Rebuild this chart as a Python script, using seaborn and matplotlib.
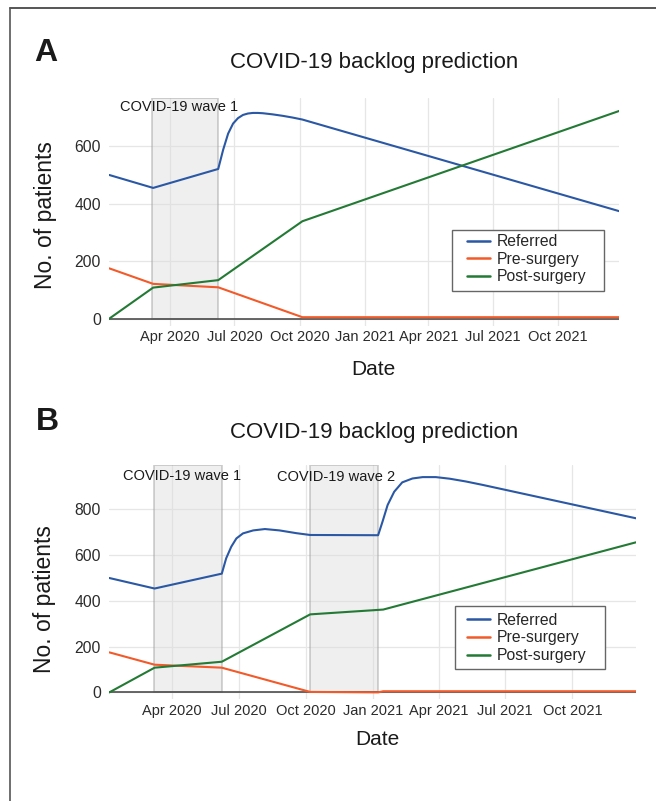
import matplotlib
matplotlib.use("Agg")
import matplotlib.pyplot as plt
import matplotlib.dates as mdates
from matplotlib.lines import Line2D
from matplotlib.patches import Rectangle
import numpy as np
import pandas as pd
import seaborn as sns

# ---- data (weekly model output, key points) ----
SERIES = ["Referred", "Pre-surgery", "Post-surgery"]
COLORS = ["#2b58a4", "#f25a29", "#237a35"]

# Panel A: one wave
a_ref_dates = ["2020-01-06", "2020-03-08", "2020-06-08", "2020-06-15", "2020-06-22",
               "2020-06-29", "2020-07-06", "2020-07-13", "2020-07-20", "2020-07-27",
               "2020-08-03", "2020-08-10", "2020-08-24", "2020-09-07", "2020-09-21",
               "2020-10-05", "2021-12-27"]
a_ref_vals = [500, 455, 521, 588, 644, 679, 698, 709, 714, 716,
              716, 715, 711, 706, 700, 693, 374]
a_pre_dates = ["2020-01-06", "2020-03-08", "2020-06-08", "2020-10-05", "2021-12-27"]
a_pre_vals = [175, 121, 109, 5, 5]
a_post_dates = ["2020-01-06", "2020-03-08", "2020-06-08", "2020-10-05", "2021-12-27"]
a_post_vals = [0, 108, 134, 339, 723]

# Panel B: two waves
b_ref_dates = ["2020-01-06", "2020-03-08", "2020-06-08", "2020-06-14", "2020-06-21",
               "2020-06-28", "2020-07-07", "2020-07-21", "2020-08-06", "2020-08-26",
               "2020-09-18", "2020-10-07", "2021-01-08", "2021-01-14", "2021-01-21",
               "2021-01-30", "2021-02-10", "2021-02-24", "2021-03-10", "2021-03-28",
               "2021-04-16", "2021-05-08", "2021-05-31", "2021-12-27"]
b_ref_vals = [500, 454, 519, 586, 637, 673, 695, 708, 714, 708,
              696, 688, 687, 746, 819, 877, 918, 935, 941, 941,
              934, 922, 907, 761]
b_pre_dates = ["2020-01-06", "2020-03-08", "2020-06-08", "2020-10-07", "2021-01-08",
               "2021-01-15", "2021-12-27"]
b_pre_vals = [175, 121, 108, 2, 0, 5, 5]
b_post_dates = ["2020-01-06", "2020-03-08", "2020-06-08", "2020-10-07", "2021-01-15",
                "2021-12-27"]
b_post_vals = [0, 108, 134, 341, 362, 656]

A_WAVES = [("2020-03-07", "2020-06-08", "COVID-19 wave 1")]
B_WAVES = [("2020-03-07", "2020-06-08", "COVID-19 wave 1"),
           ("2020-10-07", "2021-01-08", "COVID-19 wave 2")]
A_YTICKS = [0, 200, 400, 600]
B_YTICKS = [0, 200, 400, 600, 800]

sns.set_style("whitegrid")
plt.rcParams["font.family"] = ["Liberation Sans", "DejaVu Sans"]


def long_df(ref_d, ref_v, pre_d, pre_v, post_d, post_v):
    parts = []
    for name, d, v in zip(SERIES, [ref_d, pre_d, post_d], [ref_v, pre_v, post_v]):
        parts.append(pd.DataFrame({"date": pd.to_datetime(d), "patients": v, "series": name}))
    return pd.concat(parts, ignore_index=True)


def draw_panel(ax, df, waves, ylim, yticks, label_pos, frame_box, leg_anchor):
    ymin, ymax = ylim
    ax.set_facecolor("white")
    for s, e, txt in waves:
        ax.fill_between(pd.to_datetime([s, e]), 0, ymax, facecolor="#d9dbd9", alpha=0.42,
                        edgecolor="#999999", linewidth=1.4, zorder=1)
    ax.axhline(0, color="#4d4d4d", lw=1.2, zorder=2)
    sns.lineplot(data=df, x="date", y="patients", hue="series", hue_order=SERIES,
                 palette=COLORS, estimator=None, linewidth=1.5, ax=ax, zorder=3)
    for (s, e, txt), (tx, ty) in zip(waves, label_pos):
        ax.text(pd.Timestamp(tx), ty, txt, ha="center", va="center", fontsize=10.5,
                color="#1a1a1a", zorder=4)

    ax.set_xlim(pd.Timestamp("2020-01-06"), pd.Timestamp("2021-12-27"))
    ax.set_ylim(ymin, ymax)
    ax.set_yticks(yticks)
    ax.xaxis.set_major_locator(mdates.MonthLocator(bymonth=[1, 4, 7, 10]))
    ax.xaxis.set_major_formatter(mdates.DateFormatter("%b %Y"))
    ax.grid(True, color="#e6e6e6", lw=0.9)
    ax.set_axisbelow(True)
    for sp in ax.spines.values():
        sp.set_visible(False)
    ax.tick_params(axis="x", length=0, pad=3.5, labelsize=10.5, labelcolor="#2b2b2b")
    ax.tick_params(axis="y", length=0, pad=6, labelsize=11.3, labelcolor="#2b2b2b")
    ax.set_xlabel("")
    ax.set_ylabel("")

    # legend: square frame drawn separately, entries placed inside it
    ax.add_patch(Rectangle(frame_box[:2], frame_box[2], frame_box[3], transform=ax.transAxes,
                           facecolor="white", edgecolor="#666666", lw=1.0, zorder=5))
    handles = [Line2D([], [], color=c, lw=1.8) for c in COLORS]
    leg = ax.legend(handles, SERIES, loc="upper left", bbox_to_anchor=leg_anchor,
                    fontsize=11.3, frameon=False, borderpad=0, labelspacing=0.17,
                    handlelength=1.5, handletextpad=0.4, borderaxespad=0)
    leg.set_zorder(6)


fig = plt.figure(figsize=(6.56, 8.01), dpi=100)
ax_a = fig.add_axes([0.1666, 0.5936, 0.7774, 0.2837])
ax_b = fig.add_axes([0.1666, 0.1276, 0.8029, 0.2919])

df_a = long_df(a_ref_dates, a_ref_vals, a_pre_dates, a_pre_vals, a_post_dates, a_post_vals)
df_b = long_df(b_ref_dates, b_ref_vals, b_pre_dates, b_pre_vals, b_post_dates, b_post_vals)

draw_panel(ax_a, df_a, A_WAVES, (-24, 767), A_YTICKS,
           [("2020-04-13", 735)], (0.6714, 0.1518, 0.2992, 0.2685), (0.7008, 0.4027))
draw_panel(ax_b, df_b, B_WAVES, (-28, 994), B_YTICKS,
           [("2020-04-15", 947), ("2020-11-11", 943)], (0.657, 0.1275, 0.2837, 0.2707),
           (0.6786, 0.3683))

# titles, panel letters and axis labels placed on the figure
for y_title, letter, (lx, ly), (yl_x, yl_y), (dx, dy) in [
        (0.9225, "A", (0.0694, 0.9335), (0.0686, 0.7316), (0.5686, 0.5393)),
        (0.4605, "B", (0.0716, 0.4732), (0.0678, 0.2522), (0.576, 0.0762))]:
    fig.text(0.5697, y_title, "COVID-19 backlog prediction", ha="center", va="center",
             fontsize=16, color="#1a1a1a")
    fig.text(lx, ly, letter, ha="center", va="center", fontsize=23,
             fontweight="bold", color="#1a1a1a")
    fig.text(yl_x, yl_y, "No. of patients", rotation=90, ha="center", va="center",
             fontsize=16.5, color="#1a1a1a")
    fig.text(dx, dy, "Date", ha="center", va="center", fontsize=15, color="#1a1a1a")

# page frame (top and left edges)
fig.add_artist(Line2D([0.0148, 1.0], [0.9896, 0.9896], color="#555555", lw=1.4,
                      transform=fig.transFigure))
fig.add_artist(Line2D([0.0148, 0.0148], [0.0, 0.9896], color="#555555", lw=1.2,
                      transform=fig.transFigure))

fig.savefig("out.png", dpi=100)
